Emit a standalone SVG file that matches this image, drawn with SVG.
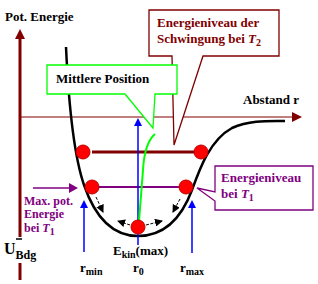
<svg xmlns="http://www.w3.org/2000/svg" width="318" height="284" viewBox="0 0 318 284" font-family="'Liberation Serif', serif">
<style>
text{font-family:'Liberation Serif',serif;font-weight:bold;font-size:13px}
.k{fill:#000}
.dr{fill:#800000}
.pu{fill:#800080}
.sub{font-size:10px}
.ball{fill:#FF0000;stroke:#C00000;stroke-width:1}
</style>
<defs>
<marker id="ah" markerWidth="8" markerHeight="8" refX="7" refY="4" orient="auto" markerUnits="userSpaceOnUse"><path d="M0,0 L8,4 L0,8 z" fill="#000"/></marker>
</defs>
<rect width="318" height="284" fill="#fff"/>
<g id="axes">
<line x1="20" y1="36" x2="20" y2="237" stroke="#800000" stroke-width="3"/>
<line x1="20" y1="263" x2="20" y2="280" stroke="#800000" stroke-width="3"/>
<path d="M20,29 L15,39 L25,39 z" fill="#800000"/>
<line x1="20" y1="117" x2="293" y2="117" stroke="#800000" stroke-width="1"/>
<path d="M302,117 L292,112 L292,122 z" fill="#800000"/>
<line x1="16" y1="239" x2="22" y2="239" stroke="#000" stroke-width="1.5"/>
<text x="5" y="21" class="k">Pot. Energie</text>
<text x="243" y="104" class="k">Abstand r</text>
<text x="4" y="254" class="k" style="font-size:16px">U<tspan dy="5" style="font-size:12px">Bdg</tspan></text>
</g>
<g id="connectors">
<path d="M66,47 C68,90 72,150 84,185 C96,220 115,236 138,236 C162,236 180,222 192,190 C200,168 210,140 232,128 C250,120 268,121 285,121" fill="none" stroke="#000" stroke-width="2.5"/>
<line x1="92" y1="152" x2="195" y2="152" stroke="#800000" stroke-width="3"/>
<line x1="98" y1="187" x2="180" y2="187" stroke="#800080" stroke-width="2"/>
<line x1="33" y1="188" x2="70" y2="188" stroke="#800080" stroke-width="1.5"/>
<path d="M78,188 L69,183 L69,193 z" fill="#800080"/>
<line x1="138" y1="245" x2="138" y2="126" stroke="#0000FF" stroke-width="1.5"/>
<path d="M138,118 L134,126 L142,126 z" fill="#0000FF"/>
<line x1="84" y1="252" x2="84" y2="208" stroke="#0000FF" stroke-width="1.5"/>
<path d="M84,200 L80,208 L88,208 z" fill="#0000FF"/>
<line x1="192" y1="253" x2="192" y2="208" stroke="#0000FF" stroke-width="1.5"/>
<path d="M192,200 L188,208 L196,208 z" fill="#0000FF"/>
<path d="M155,134 C148,140 144,152 143,170 L138,234" fill="none" stroke="#00FF00" stroke-width="2"/>
<g stroke="#000" stroke-width="1" stroke-dasharray="3,1.5" fill="none">
<line x1="96" y1="197" x2="103" y2="212" marker-end="url(#ah)"/>
<line x1="180" y1="199" x2="173" y2="212" marker-end="url(#ah)"/>
<line x1="130" y1="225" x2="118" y2="221" marker-end="url(#ah)"/>
<line x1="146" y1="225" x2="162" y2="221" marker-end="url(#ah)"/>
</g>
</g>
<g id="balls">
<circle cx="83" cy="152" r="7" class="ball"/>
<circle cx="201" cy="152" r="7" class="ball"/>
<circle cx="92" cy="187" r="7" class="ball"/>
<circle cx="186" cy="187" r="7" class="ball"/>
<circle cx="138" cy="227" r="7" class="ball"/>
</g>
<g id="callout-T2">
<path d="M149,10 L279,10 L279,56 L203,56 L174,145 L172,56 L149,56 z" fill="#fff" stroke="#800000" stroke-width="1.3"/>
<text x="157" y="27" class="dr">Energieniveau der</text>
<text x="157" y="43" class="dr">Schwingung bei <tspan font-style="italic">T</tspan><tspan class="sub" dy="3">2</tspan></text>
</g>
<g id="callout-mittlere">
<path d="M47,65 L177,65 L177,94 L155,94 L153,128 L125,94 L47,94 z" fill="#fff" stroke="#00FF00" stroke-width="1.3"/>
<text x="56" y="83" class="k">Mittlere Position</text>
</g>
<g id="callout-T1">
<path d="M215,166 L313,166 L313,210 L215,210 L215,201 L197,188 L215,192 z" fill="#fff" stroke="#800080" stroke-width="1.3"/>
<text x="221" y="182" class="pu">Energieniveau</text>
<text x="221" y="198" class="pu">bei <tspan font-style="italic">T</tspan><tspan class="sub" dy="3">1</tspan></text>
</g>
<g id="labels">
<text x="24" y="205" class="pu" style="font-size:12px">Max. pot.</text>
<text x="24" y="218" class="pu" style="font-size:12px">Energie</text>
<text x="24" y="232" class="pu" style="font-size:12px">bei <tspan font-style="italic">T</tspan><tspan class="sub" dy="3">1</tspan></text>
<text x="113" y="255" class="k">E<tspan class="sub" dy="3">kin</tspan><tspan dy="-3">(max)</tspan></text>
<text x="80" y="272" class="k">r<tspan class="sub" dy="3">min</tspan></text>
<text x="133" y="272" class="k">r<tspan class="sub" dy="3">0</tspan></text>
<text x="180" y="272" class="k">r<tspan class="sub" dy="3">max</tspan></text>
</g>
</svg>
